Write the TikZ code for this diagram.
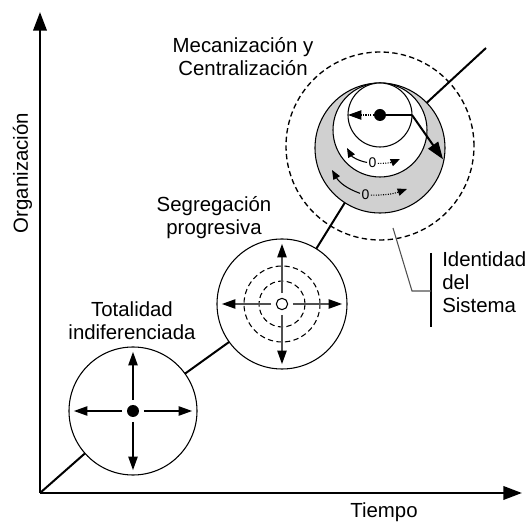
\documentclass[tikz,border=0pt]{standalone}
\usepackage{fontspec}
\setmainfont{Liberation Sans}
\usetikzlibrary{arrows.meta, positioning, calc}
\definecolor{ringgray}{HTML}{D0D0D0}
\definecolor{arrowgray}{HTML}{505050}

\tikzset{
  axis/.style={line width=2pt, -{Triangle[length=14pt,width=10pt]}},
  stage/.style={circle, draw, line width=0.8pt, fill=white, inner sep=0pt, outer sep=0pt},
  core/.style={circle, fill, inner sep=0pt, minimum size=9pt},
  ringdash/.style={circle, draw, dash pattern=on 4pt off 2.5pt, inner sep=0pt},
  spread/.style={line width=0.8pt, -{Triangle[length=10pt,width=7pt,color=black]},
                 shorten <=3.5pt, shorten >=3.7pt},
  turn/.style={line width=0.8pt, -{Triangle[length=7pt,width=5.5pt,color=black]}},
  stagetext/.style={font=\fontsize{15.3}{17.3}\selectfont, align=center, inner sep=0pt},
}

\begin{document}
\begin{tikzpicture}[x=0.75pt, y=0.75pt]
\useasboundingbox (0,0) rectangle (526,522);

% axes
\coordinate (O) at (40,29);
\coordinate (ytip) at (40,510);
\coordinate (xtip) at (522,29);
\draw[axis] (O) -- (ytip);
\draw[axis] (O) -- (xtip);
\node[stagetext, rotate=90, anchor=base] (org) at (28,349) {Organización};
\node[stagetext, anchor=base] (tiempo) at (384,4) {Tiempo};

% path of development
\coordinate (c1) at (133,111);
\coordinate (c2) at (282,218);
\coordinate (c3) at (380,376);
\coordinate (pathend) at (486,474);
\draw[line width=1.5pt] (O) -- (c1) -- (c2) -- (c3) -- (pathend);

% stage 1
\node[stage, minimum size=96pt] (tot) at (c1) {};
\node[core] (totdot) at (c1) {};
\foreach \a in {north, south, east, west}
  \draw[spread] (totdot) -- (tot.\a);
\node[stagetext, anchor=base] (totlab) at (132,182) {Totalidad\\indiferenciada};

% stage 2
\node[stage, minimum size=97.5pt] (seg) at (c2) {};
\node[ringdash, line width=0.8pt, minimum size=57pt] (segouter) at (c2) {};
\node[ringdash, line width=0.8pt, minimum size=34.5pt] (seginner) at (c2) {};
\node[circle, draw, fill=white, line width=0.8pt, inner sep=0pt, minimum size=8.5pt] (segcore) at (c2) {};
\foreach \a in {north, south, east, west}
  \draw[spread, draw=arrowgray] (segcore) -- (seg.\a);
\node[stagetext, anchor=base] (seglab) at (214,287) {Segregación\\progresiva};

% stage 3
\node[ringdash, line width=1pt, minimum size=141pt] (mecid) at (c3) {};
\node[stage, fill=ringgray, minimum size=97.5pt] (mecout) at (380,374) {};
\node[stage, minimum size=70.5pt] (mecmid) at (380,392) {};
\node[stage, minimum size=48pt] (mecin) at (380,407) {};
\node[core] (mecdot) at (mecin) {};
\draw[turn, densely dotted, -{Triangle[length=10pt,width=7pt]}] (mecdot) -- (mecin.west);
\draw[line width=1.5pt] (mecdot) -- (mecin.east);
\draw[line width=1.5pt, -{Triangle[length=13pt,width=9pt]}, shorten >=1pt] (mecin.east) -- (mecout.-11);

\node[font=\fontsize{10.5}{12}\selectfont, inner sep=1pt] (zin) at (372.5,359) {0};
\node[font=\fontsize{10.5}{12}\selectfont, inner sep=1pt] (zout) at (365.5,327) {0};
\coordinate (zinl) at (347,374);
\coordinate (zinr) at (400,363);
\coordinate (zoutl) at (332,352);
\coordinate (zoutr) at (407,333);
\draw[turn] (zin) to[bend left=25] (zinl);
\draw[turn, densely dotted] (zin) to[bend right=12] (zinr);
\draw[turn] (zout) to[bend left=20] (zoutl);
\draw[turn, densely dotted] (zout) to[bend right=10] (zoutr);
\node[stagetext, anchor=base] (meclab) at (243,446) {Mecanización y\\Centralización};

% identity label
\node[stagetext, align=left, anchor=base west] (ident) at (442,209) {Identidad\\del\\Sistema};
\coordinate (bartop) at (431,269);
\coordinate (barbot) at (431,195);
\coordinate (barmid) at (431,231);
\coordinate (ringpt) at (393,294);
\coordinate (knee) at (412,231);
\draw[line width=0.8pt] (bartop) -- (barbot);
\draw[arrowgray, line width=0.8pt] (ringpt) -- (knee) -- (barmid);
\end{tikzpicture}
\end{document}
